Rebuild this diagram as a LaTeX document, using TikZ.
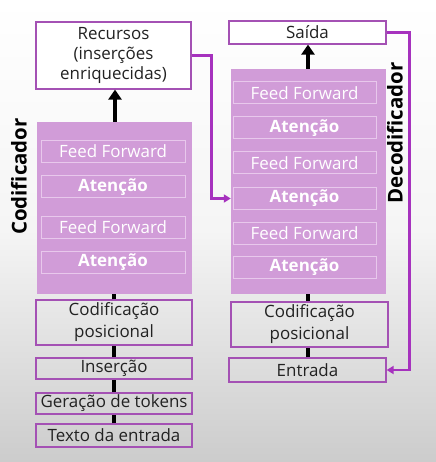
\documentclass[tikz,border=0pt]{standalone}
\usepackage{fontspec}
\setmainfont{Open Sans}
\usetikzlibrary{arrows.meta,calc}
\definecolor{blockpink}{HTML}{D19CD8}
\definecolor{innerline}{HTML}{E8C8EC}
\definecolor{boxline}{HTML}{A451B4}
\definecolor{conpurple}{HTML}{A632BE}
\definecolor{txt}{HTML}{222222}
\tikzset{
  stackblock/.style={fill=blockpink, draw=none, minimum width=155bp, inner sep=0pt},
  layerbox/.style={draw=innerline, line width=1bp, text=white, font=\fontsize{17}{20}\selectfont, inner sep=0pt, minimum height=22bp},
  whitebox/.style={draw=boxline, line width=1.2bp, fill=white, text=txt, font=\fontsize{17}{20}\selectfont, align=center, inner sep=0pt},
  plainbox/.style={draw=boxline, line width=1.2bp, text=txt, font=\fontsize{17}{22}\selectfont, align=center, inner sep=0pt},
  blackcon/.style={line width=4bp, draw=black},
  blackarrow/.style={line width=4bp, draw=black, -{Triangle[length=10bp,width=13bp]}},
  purplearrow/.style={line width=2.5bp, draw=conpurple, -{Triangle[length=7bp,width=8bp]}},
  sidelabel/.style={rotate=90, font=\bfseries\fontsize{20.5}{24}\selectfont, text=black}
}
\begin{document}
\begin{tikzpicture}[x=1bp,y=-1bp]
\useasboundingbox (0,0) rectangle (436,462);
\shade[top color=white, bottom color=black!20, middle color=white!96!black] (0,0) rectangle (436,462);
% Encoder
\node[stackblock, minimum height=172bp] (enc) at (114.5,208) {};
\node[layerbox, minimum width=144bp] (e1) at (113,151.5) {Feed Forward};
\node[layerbox, minimum width=144bp] (e2) at (113,187) {\bfseries Atenção};
\node[layerbox, minimum width=144bp] (e3) at (113,227.5) {Feed Forward};
\node[layerbox, minimum width=144bp] (e4) at (113,262.5) {\bfseries Atenção};
\node[whitebox, minimum width=155bp, minimum height=67bp] (rec) at (113.5,55.5) {Recursos\\(inserções\\enriquecidas)};
\node[plainbox, minimum width=156bp, minimum height=45bp] (cp1) at (114,322.5) {Codificação\\posicional};
\node[plainbox, minimum width=156bp, minimum height=21bp] (ins) at (114,368.5) {Inserção};
\node[plainbox, minimum width=156bp, minimum height=21bp] (ger) at (114,403.5) {Geração de tokens};
\node[plainbox, minimum width=156bp, minimum height=23bp] (txtin) at (114,435.5) {Texto da entrada};
\node[sidelabel] (lcod) at (19,176.5) {Codificador};
% Decoder
\node[stackblock, minimum height=225bp] (dec) at (308.5,181.5) {};
\node[layerbox, minimum width=143bp] (d1) at (304.5,93) {Feed Forward};
\node[layerbox, minimum width=143bp] (d2) at (304.5,128) {\bfseries Atenção};
\node[layerbox, minimum width=143bp] (d3) at (304.5,163) {Feed Forward};
\node[layerbox, minimum width=143bp] (d4) at (304.5,198.5) {\bfseries Atenção};
\node[layerbox, minimum width=143bp] (d5) at (304.5,233.5) {Feed Forward};
\node[layerbox, minimum width=143bp] (d6) at (304.5,267) {\bfseries Atenção};
\node[whitebox, minimum width=157bp, minimum height=23bp] (sai) at (307.5,32.5) {Saída};
\node[plainbox, minimum width=157bp, minimum height=45bp] (cp2) at (309.5,324.5) {Codificação\\posicional};
\node[plainbox, minimum width=157bp, minimum height=24bp] (ent) at (307.5,370) {Entrada};
\node[sidelabel] (ldec) at (395,133) {Decodificador};
% Black connectors
\draw[blackarrow] ([xshift=0.5bp]enc.north) -- ([xshift=0.5bp]enc.north |- rec.south);
\draw[blackcon] (cp1.north) -- (cp1.north |- enc.south);
\draw[blackcon] (ins.north) -- (cp1.south);
\draw[blackcon] (ger.north) -- (ins.south);
\draw[blackcon] (txtin.north) -- (ger.south);
\draw[blackarrow] ([xshift=-0.5bp]dec.north) -- ([xshift=-0.5bp]dec.north |- sai.south);
\draw[blackcon] ([xshift=-1.5bp]cp2.north) -- ([xshift=-1.5bp]cp2.north |- dec.south);
\draw[blackcon] ([xshift=0.5bp]ent.north) -- ([xshift=0.5bp]ent.north |- cp2.south);
% Purple connectors
\draw[purplearrow] (rec.east) -- ([xshift=20bp]rec.east) |- (d4.west -| dec.west);
\draw[purplearrow] (sai.east) -- ([xshift=23bp]sai.east) |- (ent.east);
\end{tikzpicture}
\end{document}
